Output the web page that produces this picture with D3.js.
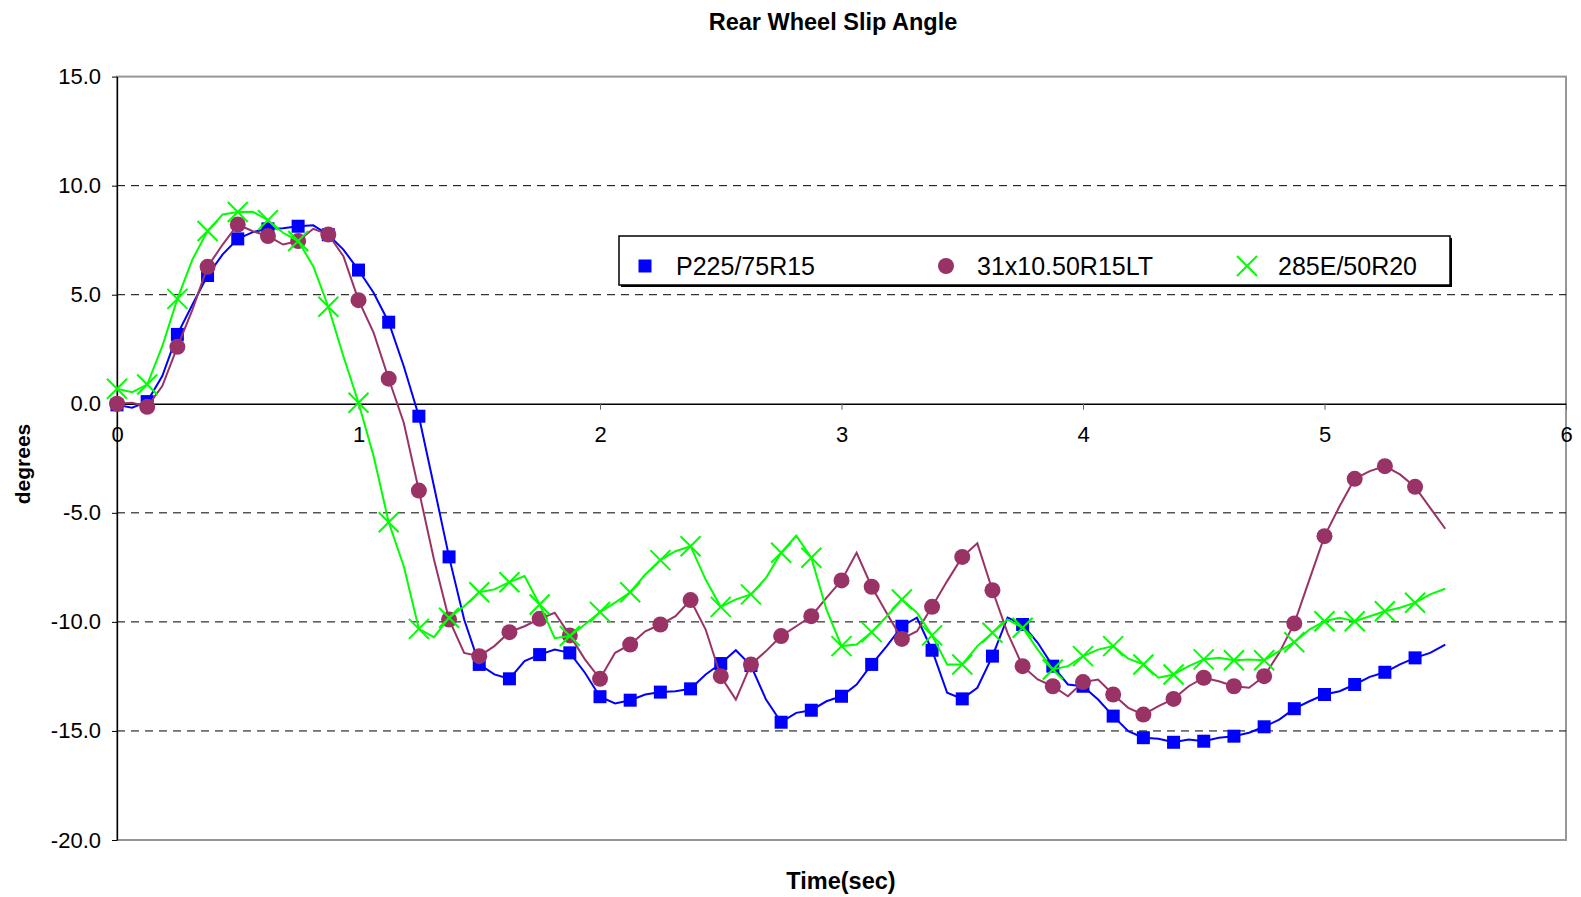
<!DOCTYPE html>
<html>
	<meta charset="utf-8" />
	<style>
		html,
		body {
			margin: 0;
			padding: 0;
			background: #fff;
		}
		svg {
			display: block;
		}
		text {
			font-family: "Liberation Sans", Arial, sans-serif;
			fill: #000;
		}
		.grid line {
			stroke: #000;
			stroke-dasharray: 8, 6;
		}
	</style>
	<svg width="1581" height="897"></svg>
	<script src="https://d3js.org/d3.v7.min.js"></script>
	<script>
		// sample times (sec), every 0.0625 s; markers are drawn on every other sample
		var time = [
			0, 0.0625, 0.125, 0.1875, 0.25, 0.3125, 0.375, 0.4375, 0.5, 0.5625, 0.625, 0.6875, 0.75, 0.8125, 0.875, 0.9375,
			1, 1.0625, 1.125, 1.1875, 1.25, 1.3125, 1.375, 1.4375, 1.5, 1.5625, 1.625, 1.6875, 1.75, 1.8125, 1.875, 1.9375,
			2, 2.0625, 2.125, 2.1875, 2.25, 2.3125, 2.375, 2.4375, 2.5, 2.5625, 2.625, 2.6875, 2.75, 2.8125, 2.875, 2.9375,
			3, 3.0625, 3.125, 3.1875, 3.25, 3.3125, 3.375, 3.4375, 3.5, 3.5625, 3.625, 3.6875, 3.75, 3.8125, 3.875, 3.9375,
			4, 4.0625, 4.125, 4.1875, 4.25, 4.3125, 4.375, 4.4375, 4.5, 4.5625, 4.625, 4.6875, 4.75, 4.8125, 4.875, 4.9375,
			5, 5.0625, 5.125, 5.1875, 5.25, 5.3125, 5.375, 5.4375, 5.5,
		];

		var p225 = [
			-0.05, -0.18, 0.1, 1.27, 3.18, 4.55, 5.88, 6.85, 7.56, 7.87, 8.02, 8.05, 8.14, 8.18, 7.75, 7.07,
			6.13, 5.09, 3.74, 1.72, -0.57, -3.78, -7.02, -9.89, -11.95, -12.41, -12.61, -11.8, -11.5, -11.27, -11.42, -12.33,
			-13.43, -13.74, -13.59, -13.33, -13.22, -13.18, -13.07, -12.41, -11.91, -11.3, -12.0, -13.56, -14.6, -14.17, -14.05, -13.64,
			-13.41, -12.87, -11.95, -11.11, -10.2, -9.81, -11.3, -13.25, -13.53, -13.02, -11.57, -9.8, -10.12, -10.96, -12.03, -12.87,
			-12.95, -13.56, -14.32, -15.01, -15.31, -15.36, -15.52, -15.39, -15.47, -15.31, -15.24, -15.08, -14.81, -14.48, -13.98, -13.64,
			-13.33, -13.18, -12.87, -12.52, -12.31, -11.95, -11.65, -11.42, -11.04,
		];

		var lt31 = [
			0.0, 0.05, -0.14, 0.81, 2.61, 4.32, 6.28, 7.3, 8.22, 7.91, 7.69, 7.3, 7.46, 8.02, 7.76, 6.77,
			4.75, 3.26, 1.15, -0.87, -3.98, -7.14, -9.89, -11.42, -11.57, -11.11, -10.47, -10.2, -9.86, -9.58, -10.62, -11.72,
			-12.61, -11.42, -11.04, -10.43, -10.12, -9.74, -9.0, -10.35, -12.49, -13.56, -11.95, -11.34, -10.65, -10.2, -9.74, -8.9,
			-8.1, -6.83, -8.39, -9.6, -10.78, -10.43, -9.31, -8.13, -7.02, -6.4, -8.55, -10.5, -12.03, -12.64, -12.95, -13.41,
			-12.76, -12.64, -13.33, -13.94, -14.25, -13.86, -13.53, -12.95, -12.56, -12.72, -12.95, -13.02, -12.49, -11.42, -10.07, -8.06,
			-6.07, -4.7, -3.44, -3.09, -2.86, -3.24, -3.81, -4.77, -5.73,
		];

		var e285 = [
			0.69, 0.53, 0.88, 2.64, 4.81, 6.62, 7.92, 8.68, 8.79, 8.8, 8.42, 7.84, 7.46, 6.31, 4.45, 2.18,
			0.05, -2.4, -5.43, -7.45, -10.32, -10.7, -9.81, -9.28, -8.64, -8.51, -8.18, -7.9, -9.2, -10.75, -10.65, -10.12,
			-9.55, -9.12, -8.64, -7.83, -7.17, -6.76, -6.53, -8.06, -9.31, -8.97, -8.74, -7.98, -6.83, -6.05, -7.06, -9.43,
			-11.11, -11.04, -10.47, -9.74, -8.97, -9.58, -10.62, -11.95, -11.95, -11.11, -10.5, -9.89, -10.27, -11.27, -12.18, -12.03,
			-11.57, -11.27, -11.11, -11.69, -11.95, -12.56, -12.41, -12.03, -11.72, -11.65, -11.76, -11.72, -11.76, -11.34, -10.93, -10.35,
			-9.97, -9.81, -9.97, -9.74, -9.51, -9.35, -9.12, -8.74, -8.48,
		];

		var seriesNames = ["P225/75R15", "31x10.50R15LT", "285E/50R20"];
		var seriesColors = ["#0000ff", "#993366", "#00ff00"];
		var seriesShapes = ["square", "circle", "cross"];
		var seriesValues = [p225, lt31, e285];

		var yTicks = [15, 10, 5, 0, -5, -10, -15, -20];
		var xTicks = [0, 1, 2, 3, 4, 5, 6];

		var svg = d3.select("svg");
		var plotLeft = 117,
			plotRight = 1566,
			plotTop = 76.6,
			plotBottom = 840;

		var x = d3.scaleLinear().domain([0, 6]).range([plotLeft, plotRight]);
		var y = d3.scaleLinear().domain([-20, 15]).range([plotBottom, plotTop]);

		// plot frame (grey)
		svg.append("rect")
			.attr("x", plotLeft)
			.attr("y", plotTop)
			.attr("width", plotRight - plotLeft)
			.attr("height", plotBottom - plotTop)
			.attr("fill", "#fff")
			.attr("stroke", "#969696")
			.attr("stroke-width", 2);

		// dashed gridlines
		svg.append("g")
			.attr("class", "grid")
			.selectAll("line")
			.data(yTicks.filter(function (d) {
				return d !== 0 && d !== 15 && d !== -20;
			}))
			.enter()
			.append("line")
			.attr("x1", plotLeft)
			.attr("x2", plotRight)
			.attr("y1", function (d) {
				return y(d);
			})
			.attr("y2", function (d) {
				return y(d);
			});

		// y axis
		var yAxis = svg
			.append("g")
			.attr("transform", "translate(" + plotLeft + ",0)")
			.call(
				d3
					.axisLeft(y)
					.tickValues(yTicks)
					.tickSize(5)
					.tickPadding(11)
					.tickSizeOuter(0)
					.tickFormat(function (d) {
						return d.toFixed(1);
					})
			);
		yAxis.select(".domain").attr("stroke", "#000").attr("stroke-width", 1.3);
		yAxis.selectAll("text").attr("font-size", 22).attr("font-family", '"Liberation Sans", Arial, sans-serif');

		// x axis along zero
		var xAxis = svg
			.append("g")
			.attr("transform", "translate(0," + y(0) + ")")
			.call(
				d3
					.axisBottom(x)
					.tickValues(xTicks)
					.tickSize(6)
					.tickPadding(17)
					.tickSizeOuter(0)
					.tickFormat(d3.format("d"))
			);
		xAxis.select(".domain").attr("stroke", "#000").attr("stroke-width", 1.3);
		xAxis.selectAll(".tick line").attr("stroke", "#666");
		xAxis.selectAll("text").attr("font-size", 22).attr("font-family", '"Liberation Sans", Arial, sans-serif');

		function drawMarker(g, shape, color) {
			if (shape === "square") {
				g.append("rect").attr("x", -6.5).attr("y", -6.5).attr("width", 13).attr("height", 13).attr("fill", color);
			} else if (shape === "circle") {
				g.append("circle").attr("r", 8).attr("fill", color);
			} else {
				g.append("path").attr("d", "M-10,-10L10,10M-10,10L10,-10").attr("stroke", color).attr("stroke-width", 2).attr("fill", "none");
			}
		}

		var line = d3
			.line()
			.x(function (d) {
				return x(d.t);
			})
			.y(function (d) {
				return y(d.v);
			});

		seriesValues.forEach(function (vals, i) {
			var pts = time.map(function (t, k) {
				return { t: t, v: vals[k], k: k };
			});
			var g = svg.append("g");
			g.append("path")
				.datum(pts)
				.attr("fill", "none")
				.attr("stroke", seriesColors[i])
				.attr("stroke-width", 2)
				.attr("d", line);
			g.selectAll("g.m")
				.data(pts.filter(function (d) {
					return d.k % 2 === 0 && d.t < 5.45;
				}))
				.enter()
				.append("g")
				.attr("class", "m")
				.attr("transform", function (d) {
					return "translate(" + x(d.t) + "," + y(d.v) + ")";
				})
				.each(function () {
					drawMarker(d3.select(this), seriesShapes[i], seriesColors[i]);
				});
		});

		// legend
		var lg = svg.append("g");
		lg.append("rect").attr("x", 621).attr("y", 238).attr("width", 831).attr("height", 49).attr("fill", "#000");
		lg.append("rect")
			.attr("x", 619)
			.attr("y", 236)
			.attr("width", 831)
			.attr("height", 49)
			.attr("fill", "#fff")
			.attr("stroke", "#000")
			.attr("stroke-width", 1.5);
		var legendX = [645, 946, 1247];
		seriesNames.forEach(function (name, i) {
			var item = lg.append("g").attr("transform", "translate(" + legendX[i] + ",266)");
			drawMarker(item, seriesShapes[i], seriesColors[i]);
			item.append("text").attr("x", 31).attr("y", 9).attr("font-size", 25).text(name);
		});

		// titles
		svg.append("text")
			.attr("x", 833)
			.attr("y", 30)
			.attr("text-anchor", "middle")
			.attr("font-size", 23.5)
			.attr("font-weight", "bold")
			.text("Rear Wheel Slip Angle");

		svg.append("text")
			.attr("x", 841)
			.attr("y", 889)
			.attr("text-anchor", "middle")
			.attr("font-size", 23.5)
			.attr("font-weight", "bold")
			.text("Time(sec)");

		svg.append("text")
			.attr("transform", "translate(30,464) rotate(-90)")
			.attr("text-anchor", "middle")
			.attr("font-size", 21)
			.attr("font-weight", "bold")
			.text("degrees");
	</script>
</html>
